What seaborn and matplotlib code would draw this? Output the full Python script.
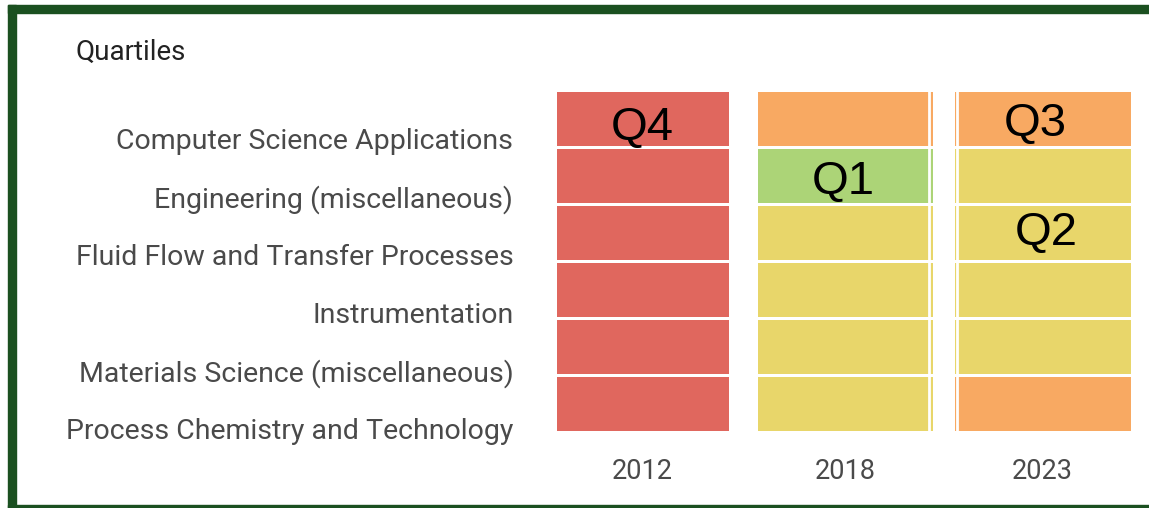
import numpy as np
import pandas as pd
import matplotlib
matplotlib.use("Agg")
import matplotlib.pyplot as plt
from matplotlib.colors import ListedColormap
from matplotlib.patches import Rectangle
import seaborn as sns

# ---- data ----
categories = [
    "Computer Science Applications",
    "Engineering (miscellaneous)",
    "Fluid Flow and Transfer Processes",
    "Instrumentation",
    "Materials Science (miscellaneous)",
    "Process Chemistry and Technology",
]
years = ["2012", "2018", "2023"]
# quartile numbers (1 = Q1 ... 4 = Q4)
q_2012 = [4, 4, 4, 4, 4, 4]
q_2018 = [3, 1, 2, 2, 2, 2]
q_2023 = [3, 2, 2, 2, 2, 3]
quartile_names = ["Q1", "Q2", "Q3", "Q4"]
quartile_colors = ["#acd477", "#e8d66a", "#f8a962", "#e0675e"]

# overlay labels: (text, year index, x within cell, y in rows)
overlay = [("Q4", 0, 0.50, 0.66), ("Q1", 1, 0.49, 1.62),
           ("Q3", 2, 0.46, 0.59), ("Q2", 2, 0.52, 2.50)]

sns.set_theme(style="white")
plt.rcParams["font.family"] = ["Roboto", "DejaVu Sans"]

W, H = 1149, 508
fig = plt.figure(figsize=(W / 100, H / 100), dpi=100)
fig.patch.set_facecolor("white")

def fx(px):
    return px / W

def fy(py):
    return 1 - py / H

# green frame (top, left, bottom)
green = "#1b5020"
fig.patches.append(Rectangle((fx(8), fy(13)), 1 - fx(8), (13 - 5) / H,
                             transform=fig.transFigure, color=green, zorder=10))
fig.patches.append(Rectangle((fx(8), 0), 7.5 / W, 1 - 5 / H,
                             transform=fig.transFigure, color=green, zorder=10))
fig.patches.append(Rectangle((fx(8), 0), 1 - fx(8), 3.5 / H,
                             transform=fig.transFigure, color=green, zorder=10))

cmap = ListedColormap(quartile_colors)
series = [q_2012, q_2018, q_2023]
col_px = [(555, 175), (756, 178), (953, 179)]
top_px, bot_px = 90, 432
# category labels sit a bit below the row centres, with slightly wider spacing
label_first, label_step = 0.91, 1.015
axes = []
for i, (yr, vals) in enumerate(zip(years, series)):
    left, width = col_px[i]
    ax = fig.add_axes([fx(left), fy(bot_px), width / W, (bot_px - top_px) / H])
    df = pd.DataFrame({yr: vals}, index=categories)
    sns.heatmap(df, ax=ax, cmap=cmap, vmin=0.5, vmax=4.5, cbar=False,
                linewidths=1.8, linecolor="white")
    ax.set_xticklabels([yr], fontsize=19.5, color="#4a4a4a")
    ax.tick_params(axis="x", length=0, pad=19)
    if i == 0:
        ax.set_yticks(label_first + label_step * np.arange(len(categories)))
        ax.set_yticklabels(categories, rotation=0, fontsize=20.5,
                           color="#4a4a4a", ha="right")
        ax.tick_params(axis="y", length=0, pad=30)
    else:
        ax.set_yticks([])
    ax.set_ylim(len(categories), 0)
    ax.set_xlabel("")
    ax.set_ylabel("")
    axes.append(ax)

# thin white seams seen inside the later columns
axes[1].axvline(0.972, color="white", lw=2)
axes[2].axvline(0.02, color="white", lw=2)

for txt, yi, xx, yy in overlay:
    axes[yi].text(xx, yy, txt, ha="center", va="center", fontsize=34,
                  color="black", family=["Liberation Sans", "DejaVu Sans"])

fig.text(fx(75), fy(52), "Quartiles", ha="left", va="center",
         fontsize=20, color="#222222")

fig.savefig("out.png", dpi=100, facecolor="white")
